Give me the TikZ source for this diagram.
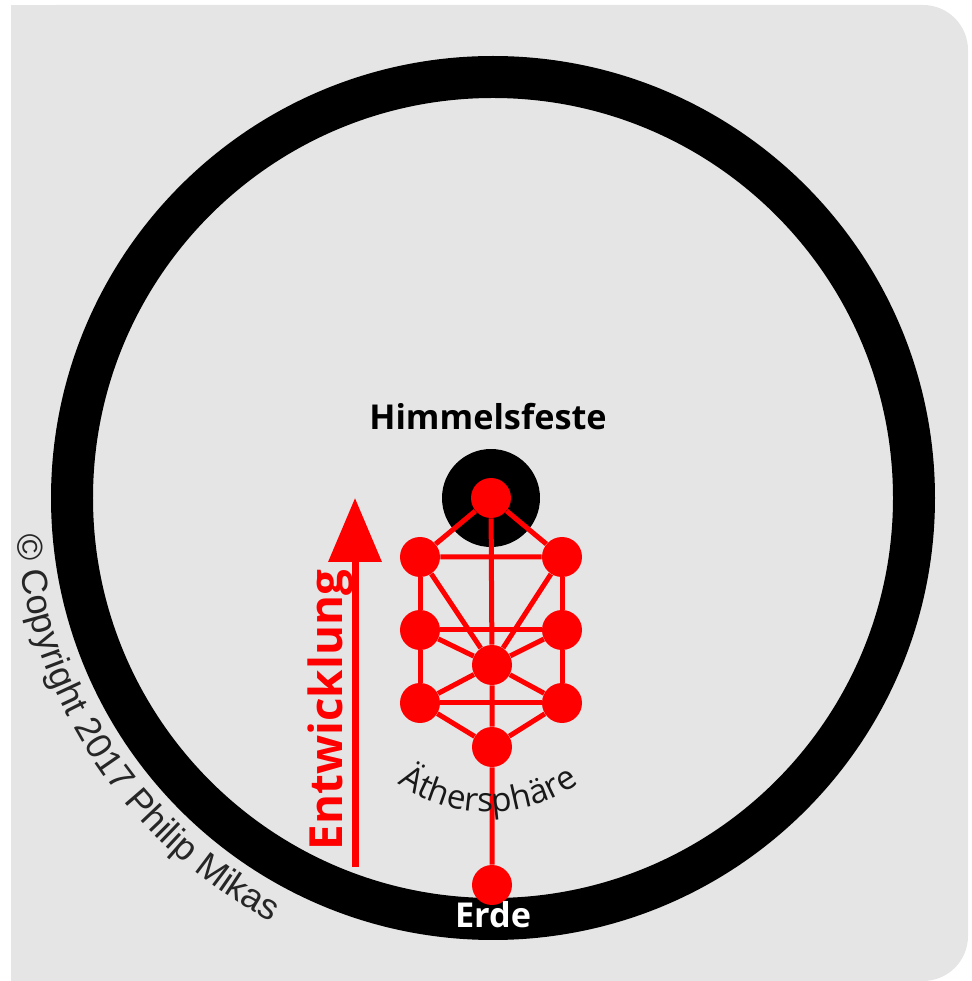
\documentclass[tikz,border=0pt]{standalone}
\usepackage{fontspec}
\usetikzlibrary{arrows.meta,decorations.text}

\newfontfamily\opensans{Open Sans}
\newfontfamily\arialsans{Liberation Sans}
\definecolor{panel}{RGB}{229,229,229}
\definecolor{tree}{RGB}{255,0,0}
\newcommand\titlefont{\opensans\bfseries\fontsize{19.5}{23}\selectfont}
\newcommand\growfont{\opensans\bfseries\fontsize{26}{31}\selectfont}
\newcommand\spherefont{\opensans\fontsize{19}{22}\selectfont}
\newcommand\copyfont{\arialsans\fontsize{20.5}{25}\selectfont}

\tikzset{
  sefira/.style={circle, fill=tree, inner sep=0pt, minimum size=0.8cm},
  twig/.style={draw=tree, line width=0.1cm},
}

\begin{document}
\begin{tikzpicture}[x=0.02cm,y=0.02cm]
    \useasboundingbox (0,0) rectangle (971,981);
    \fill[panel, rounded corners=0.9cm] (11,0) rectangle (968,976);
    \fill[panel] (11,0) rectangle (500,976);

    % firmament ring and the dark centre
    \coordinate (mid) at (493,483);
    \draw[line width=0.84cm] (mid) circle[radius=421];
    \node[circle, fill=black, inner sep=0pt, minimum size=1.96cm] (feste) at (491,483) {};

    % the tree
    \node[sefira] (s_top) at (491,483) {};
    \node[sefira] (s_ul) at (420,424) {};
    \node[sefira] (s_ur) at (562,424) {};
    \node[sefira] (s_ml) at (420,351) {};
    \node[sefira] (s_mr) at (562,351) {};
    \node[sefira] (s_c) at (492,316) {};
    \node[sefira] (s_ll) at (420,278) {};
    \node[sefira] (s_lr) at (562,278) {};
    \node[sefira] (s_y) at (492,234) {};
    \node[sefira] (s_m) at (492,96) {};

    \draw[twig] (s_top) -- (s_ul) (s_top) -- (s_ur) (s_ul) -- (s_ur);
    \draw[twig] (s_ul) -- (s_ml) (s_ur) -- (s_mr) (s_ml) -- (s_mr);
    \draw[twig] (s_ml) -- (s_ll) (s_mr) -- (s_lr) (s_ll) -- (s_lr);
    \draw[twig] (s_ul) -- (s_c) (s_ur) -- (s_c) (s_ml) -- (s_c) (s_mr) -- (s_c);
    \draw[twig] (s_ll) -- (s_c) (s_lr) -- (s_c) (s_ll) -- (s_y) (s_lr) -- (s_y);
    \draw[twig] (s_top) -- (s_c) (s_c) -- (s_y) (s_y) -- (s_m);

    % development arrow
    \coordinate (grow_foot) at (355,114);
    \coordinate (grow_tip) at (355,483);
    \draw[tree, line width=0.14cm, -{Triangle[width=1.04cm,length=1.28cm]}] (grow_foot) -- (grow_tip);
    \node[rotate=90, anchor=base, text=tree, font=\growfont, inner sep=0pt] (grow) at (342,271) {Entwicklung};

    \node[anchor=base, font=\titlefont, inner sep=0pt] (himmel) at (488,551) {Himmelsfeste};
    \node[anchor=base, font=\titlefont, text=white, inner sep=0pt] (erde) at (493,53) {Erde};

    \path[decorate, decoration={text along path, text align=center,
        text={|\spherefont\color{black!90}|Äthersphäre}}]
        ([shift={(225:157)}]488,326) arc[start angle=225, end angle=315, radius=157];
    \path[decorate, decoration={text along path, text align=left,
        text={|\copyfont\color{black!85}|© Copyright 2017 Philip Mikas}}]
        ([shift={(184.5:478)}]mid) arc[start angle=184.5, end angle=262, radius=478];
\end{tikzpicture}
\end{document}
